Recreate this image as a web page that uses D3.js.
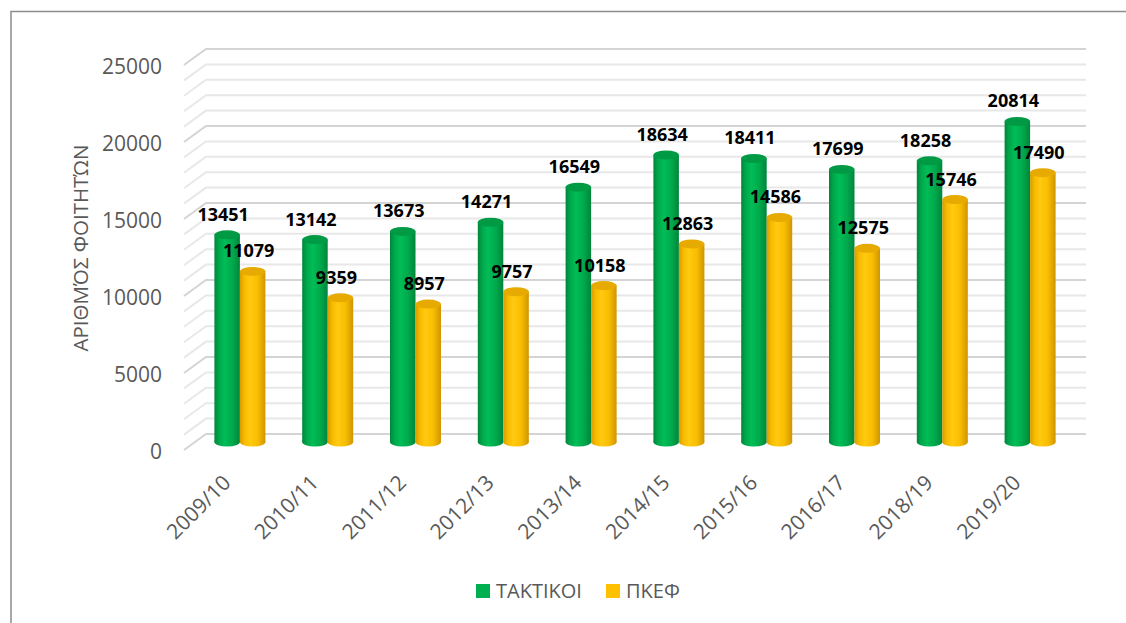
<!DOCTYPE html>
<html>
<head>
<meta charset="utf-8">
<script src="https://cdn.jsdelivr.net/npm/d3@7"></script>
<style>
  body { margin: 0; background: #fff; }
  text { font-family: 'Open Sans', 'Noto Sans', sans-serif; }
</style>
</head>
<body>
<div id="chart"></div>
<script>
const categories = ['2009/10', '2010/11', '2011/12', '2012/13', '2013/14', '2014/15', '2015/16', '2016/17', '2018/19', '2019/20']
const taktikoi = [13451, 13142, 13673, 14271, 16549, 18634, 18411, 17699, 18258, 20814]
const pkef = [11079, 9359, 8957, 9757, 10158, 12863, 14586, 12575, 15746, 17490]
const seriesNames = ['ΤΑΚΤΙΚΟΙ', 'ΠΚΕΦ']
const yTicks = [0, 5000, 10000, 15000, 20000, 25000]
const yTitle = 'ΑΡΙΘΜΌΣ ΦΟΙΤΗΤΏΝ'

const width = 1126
const height = 623

const svg = d3
  .select('#chart')
  .append('svg')
  .attr('width', width)
  .attr('height', height)

// outer frame (only top and left edges visible)
svg.append('path')
  .attr('d', 'M11,' + height + 'V11.5H' + width)
  .attr('fill', 'none')
  .attr('stroke', '#8c8c8c')
  .attr('stroke-width', 1.5)

// 3d offset between front and back wall
const depthX = 22
const depthY = 16
const wallLeft = 206
const wallRight = 1086

// back wall scale
const yBack = d3.scaleLinear().domain([0, 25000]).range([434, 49])
// bar scale (bars stand in the middle of the depth)
const yBar = d3.scaleLinear().domain([0, 25000]).range([442, 57])

const xScale = d3.scaleBand().domain(categories).range([196, 1074]).padding(0)
const xSub = d3.scaleBand().domain(seriesNames).range([-25.5, 25.5]).padding(0)

// gridlines every 1000
const gridValues = d3.range(0, 25001, 1000)
const grid = svg.append('g')
grid.selectAll('path')
  .data(gridValues)
  .enter()
  .append('path')
  .attr('d', d => {
    const y = yBack(d)
    return 'M' + (wallLeft - depthX) + ',' + (y + depthY) + 'L' + wallLeft + ',' + y + 'H' + wallRight
  })
  .attr('fill', 'none')
  .attr('stroke', d => (d % 5000 === 0 ? '#d4d4d4' : '#e8e8e8'))
  .attr('stroke-width', 2)

// y tick labels
svg.append('g')
  .selectAll('text')
  .data(yTicks)
  .enter()
  .append('text')
  .attr('x', 162)
  .attr('y', d => yBack(d) + depthY + 2)
  .attr('dy', '0.35em')
  .attr('text-anchor', 'end')
  .attr('font-size', 21)
  .attr('fill', '#595959')
  .text(d => d)

// y title
svg.append('text')
  .attr('transform', 'translate(88,248) rotate(-90)')
  .attr('text-anchor', 'middle')
  .attr('font-size', 20.5)
  .attr('fill', '#595959')
  .text(yTitle)

// gradients for cylinders
const defs = svg.append('defs')
const gradients = [
  { id: 'g-green', stops: [['0%', '#00853c'], ['18%', '#00a84b'], ['40%', '#00bd57'], ['70%', '#00aa4c'], ['100%', '#00863b']] },
  { id: 'g-yellow', stops: [['0%', '#d79c00'], ['18%', '#f7bb00'], ['40%', '#ffca10'], ['70%', '#f8bd00'], ['100%', '#cf9500']] }
]
gradients.forEach(g => {
  const lg = defs.append('linearGradient').attr('id', g.id).attr('x1', 0).attr('x2', 1).attr('y1', 0).attr('y2', 0)
  g.stops.forEach(s => lg.append('stop').attr('offset', s[0]).attr('stop-color', s[1]))
})

const colors = {
  'ΤΑΚΤΙΚΟΙ': { fill: 'url(#g-green)', top: '#009a45', flat: '#00b050' },
  'ΠΚΕΦ': { fill: 'url(#g-yellow)', top: '#e6aa00', flat: '#ffc000' }
}

const datapoints = []
categories.forEach((c, i) => {
  datapoints.push({ category: c, series: 'ΤΑΚΤΙΚΟΙ', value: taktikoi[i] })
  datapoints.push({ category: c, series: 'ΠΚΕΦ', value: pkef[i] })
})

const ry = 4.5
const bw = xSub.bandwidth()

const bars = svg.append('g')
  .selectAll('g')
  .data(datapoints)
  .enter()
  .append('g')
  .attr('transform', d => 'translate(' + (xScale(d.category) + xScale.bandwidth() / 2 + xSub(d.series)) + ',0)')

// bottom ellipse
bars.append('ellipse')
  .attr('cx', bw / 2)
  .attr('cy', yBar(0))
  .attr('rx', bw / 2)
  .attr('ry', ry)
  .attr('fill', d => colors[d.series].fill)

// body
bars.append('rect')
  .attr('x', 0)
  .attr('y', d => yBar(d.value))
  .attr('width', bw)
  .attr('height', d => yBar(0) - yBar(d.value))
  .attr('fill', d => colors[d.series].fill)

// top ellipse
bars.append('ellipse')
  .attr('cx', bw / 2)
  .attr('cy', d => yBar(d.value))
  .attr('rx', bw / 2)
  .attr('ry', ry)
  .attr('fill', d => colors[d.series].top)

// value labels
svg.append('g')
  .selectAll('text')
  .data(datapoints)
  .enter()
  .append('text')
  .attr('x', d => xScale(d.category) + xScale.bandwidth() / 2 + xSub(d.series) + bw / 2 - 4)
  .attr('y', d => yBar(d.value) - 14)
  .attr('text-anchor', 'middle')
  .attr('font-size', 18)
  .attr('font-weight', 'bold')
  .attr('fill', '#000')
  .text(d => d.value)

// category labels
svg.append('g')
  .selectAll('text')
  .data(categories)
  .enter()
  .append('text')
  .attr('transform', d => 'translate(' + (xScale(d) + xScale.bandwidth() / 2 - 8) + ',484) rotate(-45)')
  .attr('text-anchor', 'end')
  .attr('font-size', 21)
  .attr('fill', '#595959')
  .text(d => d)

// legend
const legend = svg.append('g')
const legendX = [476, 606]
seriesNames.forEach((name, i) => {
  legend.append('rect')
    .attr('x', legendX[i])
    .attr('y', 584)
    .attr('width', 14)
    .attr('height', 14)
    .attr('fill', colors[name].flat)
  legend.append('text')
    .attr('x', legendX[i] + 20)
    .attr('y', 591)
    .attr('dy', '0.35em')
    .attr('font-size', 20)
    .attr('fill', '#595959')
    .text(name)
})
</script>
</body>
</html>
